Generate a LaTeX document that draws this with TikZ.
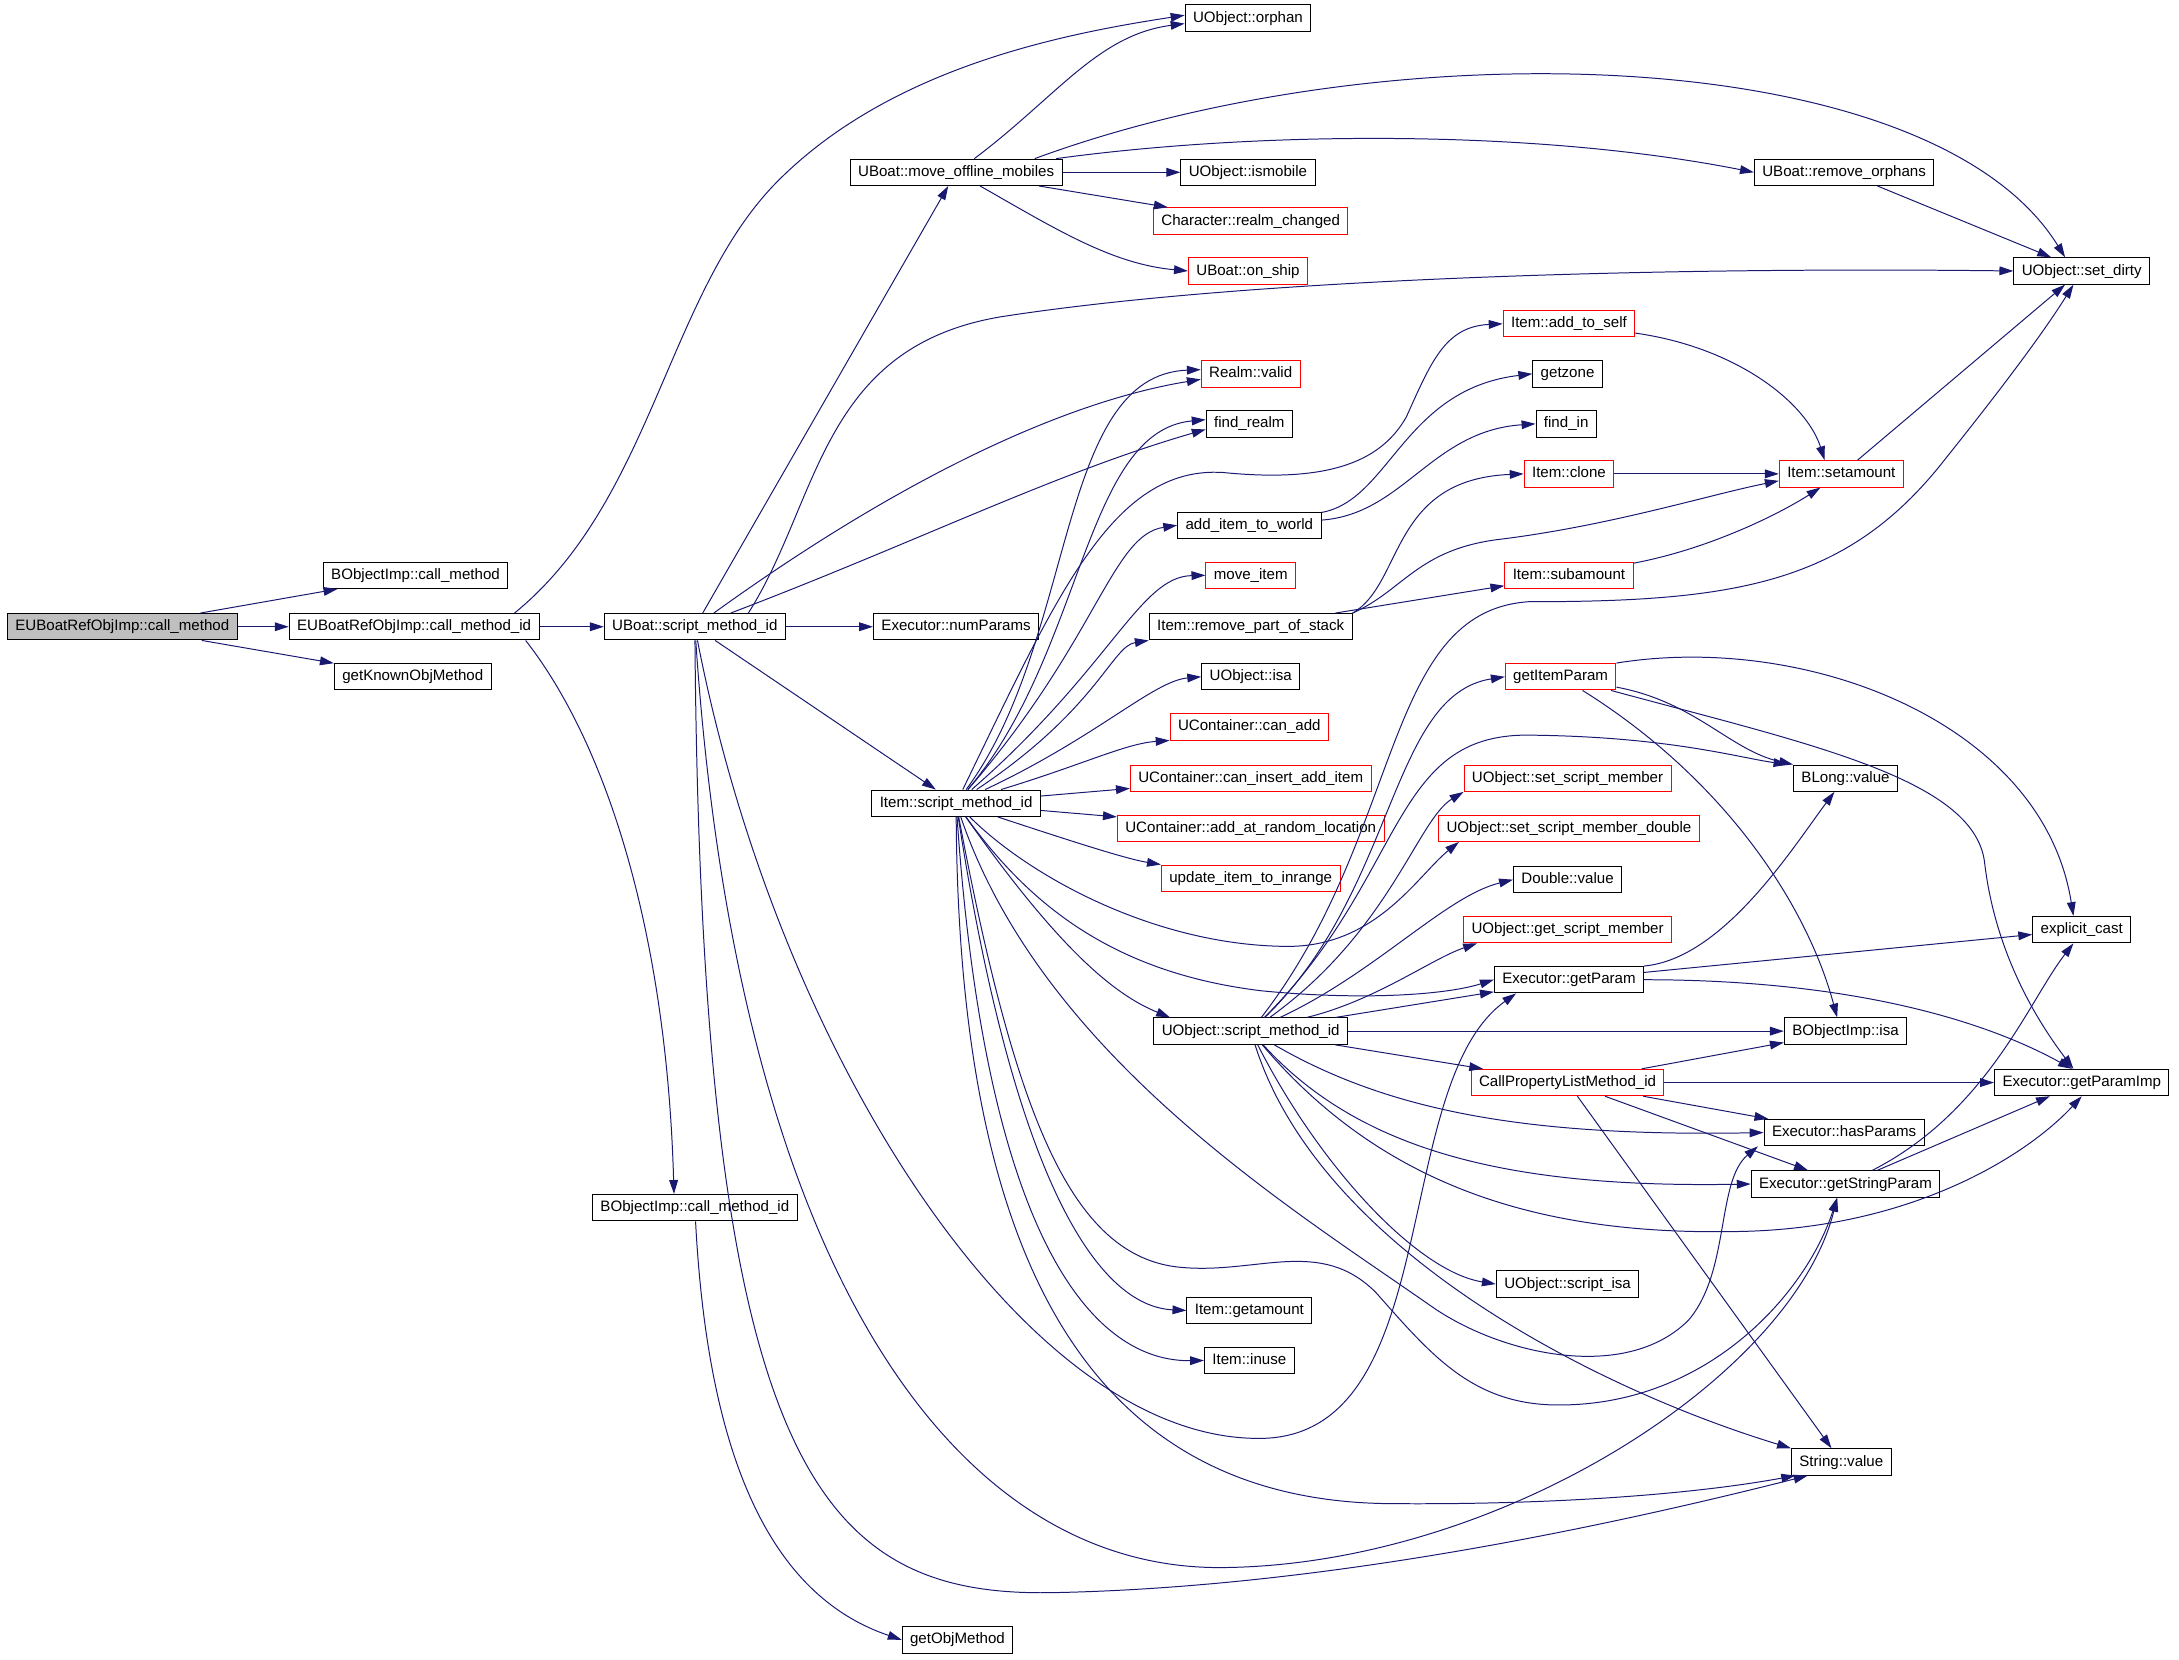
\documentclass[tikz,border=0pt]{standalone}
\usepackage{fontspec}
\setmainfont{Liberation Sans}
\usetikzlibrary{arrows.meta,calc}
\definecolor{edgeblue}{HTML}{191970}
\definecolor{curgray}{HTML}{BFBFBF}

\begin{document}
\begin{tikzpicture}[x=0.7pt, y=-0.7pt,
    fnbox/.style={draw,rectangle,line width=0.5pt,fill=white,minimum height=13.3pt,inner xsep=4pt,inner ysep=0pt,text height=5.6pt,text depth=1.5pt,font=\fontsize{7.6}{9}\selectfont},
    fnred/.style={fnbox,draw=red},
    callarrow/.style={draw=edgeblue,line width=0.5pt,-{Triangle[length=7pt,width=4.4pt]}}]
    \useasboundingbox (0,0) rectangle (1568,1194);

    % functions, column by column
    \node [fnbox,fill=curgray] (call_method) at (88,451) {EUBoatRefObjImp::call\_method};
    \node [fnbox] (bimp_call) at (299,414) {BObjectImp::call\_method};
    \node [fnbox] (call_method_id) at (298,451) {EUBoatRefObjImp::call\_method\_id};
    \node [fnbox] (known_obj) at (297,487) {getKnownObjMethod};
    \node [fnbox] (boat_smi) at (500,451) {UBoat::script\_method\_id};
    \node [fnbox] (bimp_call_id) at (500,869) {BObjectImp::call\_method\_id};
    \node [fnbox] (move_mobiles) at (688,124) {UBoat::move\_offline\_mobiles};
    \node [fnbox] (num_params) at (688,451) {Executor::numParams};
    \node [fnbox] (item_smi) at (688,578) {Item::script\_method\_id};
    \node [fnbox] (get_obj) at (689,1180) {getObjMethod};
    \node [fnbox] (orphan) at (898,13) {UObject::orphan};
    \node [fnbox] (ismobile) at (898,124) {UObject::ismobile};
    \node [fnred] (realm_changed) at (900,159) {Character::realm\_changed};
    \node [fnred] (on_ship) at (898,195) {UBoat::on\_ship};
    \node [fnred] (realm_valid) at (900,269) {Realm::valid};
    \node [fnbox] (find_realm) at (899,305) {find\_realm};
    \node [fnbox] (add_world) at (899,378) {add\_item\_to\_world};
    \node [fnred] (move_item) at (900,414) {move\_item};
    \node [fnbox] (remove_part) at (900,451) {Item::remove\_part\_of\_stack};
    \node [fnbox] (obj_isa) at (900,487) {UObject::isa};
    \node [fnred] (can_add) at (899,523) {UContainer::can\_add};
    \node [fnred] (can_insert) at (900,560) {UContainer::can\_insert\_add\_item};
    \node [fnred] (add_random) at (900,596) {UContainer::add\_at\_random\_location};
    \node [fnred] (update_inrange) at (900,632) {update\_item\_to\_inrange};
    \node [fnbox] (obj_smi) at (900,742) {UObject::script\_method\_id};
    \node [fnbox] (get_amount) at (899,943) {Item::getamount};
    \node [fnbox] (in_use) at (899,979) {Item::inuse};
    \node [fnred] (add_self) at (1129,233) {Item::add\_to\_self};
    \node [fnbox] (get_zone) at (1128,269) {getzone};
    \node [fnbox] (find_in) at (1127,305) {find\_in};
    \node [fnred] (item_clone) at (1129,341) {Item::clone};
    \node [fnred] (sub_amount) at (1129,414) {Item::subamount};
    \node [fnred] (item_param) at (1123,487) {getItemParam};
    \node [fnred] (set_member) at (1128,560) {UObject::set\_script\_member};
    \node [fnred] (set_member_dbl) at (1129,596) {UObject::set\_script\_member\_double};
    \node [fnbox] (double_value) at (1128,633) {Double::value};
    \node [fnred] (get_member) at (1128,669) {UObject::get\_script\_member};
    \node [fnbox] (get_param) at (1129,705) {Executor::getParam};
    \node [fnred] (call_plist) at (1128,779) {CallPropertyListMethod\_id};
    \node [fnbox] (script_isa) at (1128,924) {UObject::script\_isa};
    \node [fnbox] (remove_orphans) at (1327,124) {UBoat::remove\_orphans};
    \node [fnred] (set_amount) at (1325,341) {Item::setamount};
    \node [fnbox] (blong_value) at (1328,560) {BLong::value};
    \node [fnbox] (bimp_isa) at (1328,742) {BObjectImp::isa};
    \node [fnbox] (has_params) at (1327,815) {Executor::hasParams};
    \node [fnbox] (string_param) at (1328,852) {Executor::getStringParam};
    \node [fnbox] (string_value) at (1325,1052) {String::value};
    \node [fnbox] (set_dirty) at (1498,195) {UObject::set\_dirty};
    \node [fnbox] (explicit_cast) at (1498,669) {explicit\_cast};
    \node [fnbox] (param_imp) at (1498,779) {Executor::getParamImp};

    % EUBoatRefObjImp
    \draw [callarrow] (call_method) -- (bimp_call);
    \draw [callarrow] (call_method) -- (call_method_id);
    \draw [callarrow] (call_method) -- (known_obj);
    \draw [callarrow] (call_method_id) -- (boat_smi);
    \draw [callarrow] ($(call_method_id.north east)+(-18,0)$) .. controls (470,360) and (480,210) .. (560,130) .. controls (640,50) and (760,25) .. ($(orphan.west)+(0,-2)$);
    \draw [callarrow] ($(call_method_id.south east)+(-10,0)$) .. controls (440,540) and (480,680) .. ($(bimp_call_id.north)+(-15,0)$);
    \draw [callarrow] (bimp_call_id) .. controls (510,1060) and (560,1150) .. (get_obj.west);

    % UBoat::script_method_id
    \draw [callarrow] (boat_smi) -- (move_mobiles);
    \draw [callarrow] (boat_smi) -- (num_params);
    \draw [callarrow] (boat_smi) -- (item_smi);
    \draw [callarrow] ($(boat_smi.north east)+(-27,0)$) .. controls (590,360) and (590,250) .. (720,228) .. controls (900,200) and (1200,192) .. (set_dirty.west);
    \draw [callarrow] (boat_smi) .. controls (640,350) and (760,290) .. ($(realm_valid.west)+(0,4)$);
    \draw [callarrow] (boat_smi) .. controls (660,390) and (760,340) .. ($(find_realm.west)+(0,4)$);
    \draw [callarrow] (boat_smi) .. controls (560,760) and (740,1040) .. (910,1035) .. controls (1040,1030) and (1000,780) .. ($(get_param.south west)+(16,0)$);
    \draw [callarrow] (boat_smi) .. controls (530,900) and (680,1130) .. (880,1128) .. controls (1080,1126) and (1290,990) .. ($(string_param.south)+(-6,0)$);
    \draw [callarrow] (boat_smi) .. controls (505,1060) and (590,1150) .. (760,1146) .. controls (950,1142) and (1150,1100) .. ($(string_value.south west)+(12,0)$);

    % UBoat::move_offline_mobiles
    \draw [callarrow] (move_mobiles) .. controls (760,70) and (790,25) .. ($(orphan.west)+(0,4)$);
    \draw [callarrow] (move_mobiles) -- (ismobile);
    \draw [callarrow] (move_mobiles) -- (realm_changed);
    \draw [callarrow] (move_mobiles) .. controls (760,165) and (800,190) .. (on_ship.west);
    \draw [callarrow] (move_mobiles) .. controls (900,95) and (1100,92) .. (remove_orphans.west);
    \draw [callarrow] ($(move_mobiles.north east)+(-20,0)$) .. controls (1000,20) and (1390,30) .. ($(set_dirty.north)+(-12,0)$);
    \draw [callarrow] (remove_orphans) -- ($(set_dirty.north)+(-22,0)$);

    % Item::script_method_id
    \draw [callarrow] (item_smi) .. controls (775,460) and (760,270) .. ($(realm_valid.west)+(0,-3)$);
    \draw [callarrow] (item_smi) .. controls (780,470) and (780,310) .. ($(find_realm.west)+(0,-3)$);
    \draw [callarrow] (item_smi) .. controls (760,430) and (800,335) .. (880,340) .. controls (960,348) and (995,330) .. (1012,300) .. controls (1030,260) and (1040,235) .. (add_self.west);
    \draw [callarrow] (item_smi) .. controls (790,460) and (800,385) .. (add_world.west);
    \draw [callarrow] (item_smi) .. controls (800,480) and (820,415) .. (move_item.west);
    \draw [callarrow] (item_smi) .. controls (790,510) and (800,465) .. (remove_part.south west);
    \draw [callarrow] (item_smi) .. controls (790,530) and (830,490) .. (obj_isa.west);
    \draw [callarrow] (item_smi) .. controls (780,550) and (810,535) .. (can_add.south west);
    \draw [callarrow] (item_smi) -- (can_insert);
    \draw [callarrow] (item_smi) -- (add_random);
    \draw [callarrow] (item_smi) .. controls (770,605) and (810,618) .. (update_inrange.north west);
    \draw [callarrow] (item_smi) .. controls (760,680) and (800,715) .. ($(obj_smi.north west)+(12,0)$);
    \draw [callarrow] (item_smi) .. controls (740,630) and (830,680) .. (925,681) .. controls (990,682) and (1020,630) .. ($(set_member_dbl.south west)+(15,0)$);
    \draw [callarrow] (item_smi) .. controls (740,650) and (800,700) .. (908,713) .. controls (980,720) and (1040,716) .. (get_param.west);
    \draw [callarrow] (item_smi) .. controls (730,850) and (790,940) .. (get_amount.west);
    \draw [callarrow] (item_smi) .. controls (710,900) and (790,980) .. (in_use.west);
    \draw [callarrow] (item_smi) .. controls (690,900) and (780,1080) .. (1000,1082) .. controls (1120,1083) and (1220,1075) .. ($(string_value.south west)+(3,0)$);
    \draw [callarrow] (item_smi) .. controls (730,800) and (770,905) .. (850,912) .. controls (905,917) and (950,890) .. (990,930) .. controls (1030,975) and (1060,1012) .. (1124,1011) .. controls (1230,1010) and (1300,930) .. ($(string_param.south)+(-6,0)$);
    \draw [callarrow] (item_smi) .. controls (750,760) and (930,870) .. (1030,940) .. controls (1080,975) and (1170,995) .. (1215,950) .. controls (1245,915) and (1235,850) .. ($(has_params.south west)+(-4,0)$);

    % UObject::script_method_id
    \draw [callarrow] (obj_smi) .. controls (1005,640) and (1000,500) .. (item_param.west);
    \draw [callarrow] (obj_smi) .. controls (1010,600) and (995,440) .. (1100,433) .. controls (1250,433) and (1330,420) .. (1400,330) .. controls (1440,280) and (1470,240) .. ($(set_dirty.south)+(-6,0)$);
    \draw [callarrow] (obj_smi) .. controls (1012,630) and (1000,528) .. (1100,529) .. controls (1200,530) and (1250,545) .. ($(blong_value.north west)+(-4,0)$);
    \draw [callarrow] (obj_smi) .. controls (1000,670) and (1020,590) .. (set_member.south west);
    \draw [callarrow] (obj_smi) .. controls (990,700) and (1040,645) .. (double_value.west);
    \draw [callarrow] (obj_smi) .. controls (990,720) and (1030,690) .. ($(get_member.south west)+(10,0)$);
    \draw [callarrow] (obj_smi) -- (get_param);
    \draw [callarrow] (obj_smi) -- (bimp_isa);
    \draw [callarrow] (obj_smi) -- (call_plist);
    \draw [callarrow] (obj_smi) .. controls (1000,800) and (1100,818) .. (has_params.west);
    \draw [callarrow] (obj_smi) .. controls (980,830) and (1090,855) .. (string_param.west);
    \draw [callarrow] (obj_smi) .. controls (1000,860) and (1120,890) .. (1258,886) .. controls (1380,882) and (1460,830) .. (param_imp.south);
    \draw [callarrow] (obj_smi) .. controls (950,840) and (1020,915) .. (script_isa.west);
    \draw [callarrow] (obj_smi) .. controls (950,900) and (1150,1000) .. (string_value.north west);

    % items and stacks
    \draw [callarrow] (add_world) .. controls (1000,360) and (1010,280) .. (get_zone.west);
    \draw [callarrow] (add_world) .. controls (1010,370) and (1030,310) .. (find_in.west);
    \draw [callarrow] (remove_part.north east) .. controls (1010,420) and (1000,345) .. (item_clone.west);
    \draw [callarrow] (remove_part.north east) .. controls (1010,425) and (1020,395) .. (1080,388) .. controls (1160,378) and (1230,356) .. ($(set_amount.west)+(0,5)$);
    \draw [callarrow] (remove_part) -- (sub_amount);
    \draw [callarrow] (add_self) .. controls (1250,250) and (1300,290) .. ($(set_amount.north)+(-12,0)$);
    \draw [callarrow] (item_clone) -- (set_amount);
    \draw [callarrow] (sub_amount) .. controls (1230,395) and (1280,370) .. ($(set_amount.south)+(-15,0)$);
    \draw [callarrow] (set_amount) -- ($(set_dirty.south)+(-12,0)$);

    % parameters
    \draw [callarrow] (item_param) .. controls (1240,560) and (1300,650) .. ($(bimp_isa.north)+(-6,0)$);
    \draw [callarrow] (item_param) .. controls (1220,505) and (1245,540) .. (blong_value.north west);
    \draw [callarrow] (item_param) .. controls (1300,535) and (1420,560) .. (1428,620) .. controls (1436,690) and (1470,740) .. ($(param_imp.north)+(-6,0)$);
    \draw [callarrow] (item_param.north east) .. controls (1300,455) and (1470,520) .. ($(explicit_cast.north)+(-6,0)$);
    \draw [callarrow] (get_param.north east) .. controls (1240,690) and (1290,610) .. ($(blong_value.south)+(-8,0)$);
    \draw [callarrow] (get_param) -- (explicit_cast);
    \draw [callarrow] (get_param) .. controls (1320,705) and (1420,730) .. ($(param_imp.north west)+(56,0)$);
    \draw [callarrow] (call_plist) -- (bimp_isa);
    \draw [callarrow] (call_plist) -- (param_imp);
    \draw [callarrow] (call_plist) -- (has_params);
    \draw [callarrow] (call_plist) -- (string_param);
    \draw [callarrow] (call_plist) -- (string_value);
    \draw [callarrow] (string_param) .. controls (1430,800) and (1460,720) .. ($(explicit_cast.south)+(-6,0)$);
    \draw [callarrow] (string_param) -- (param_imp);
\end{tikzpicture}
\end{document}
